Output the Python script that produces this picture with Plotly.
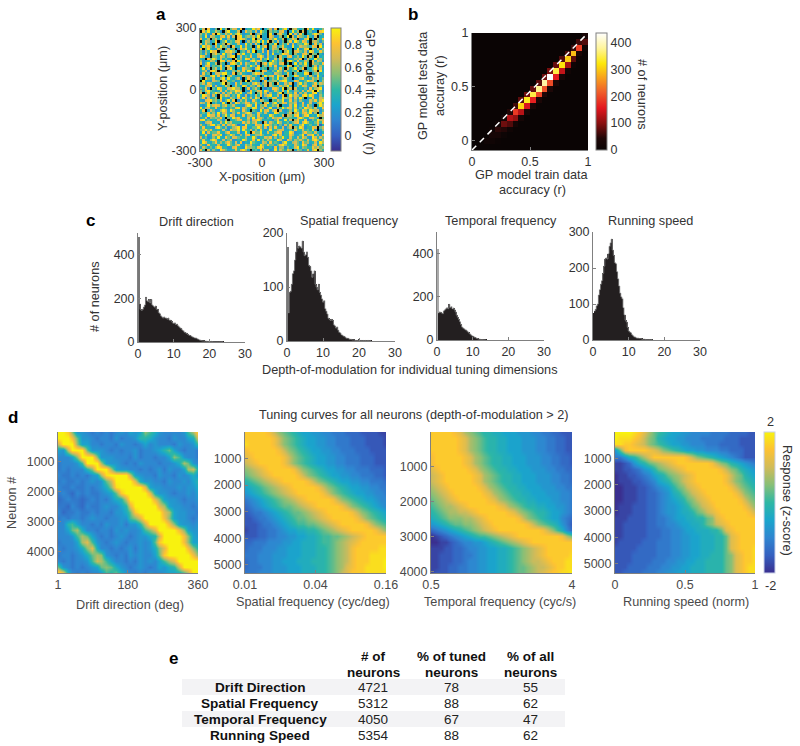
import numpy as np
import plotly.graph_objects as go

W, H = 800, 746

# ---------- panel a: fit quality per cell, digit = r*10, x = no fit (black)
FIT_ROWS = """
47x8325x93 6x57738x24 49683x3571 8x4692x674 35x8493246
x85934752x 693347x285 6372954x64 53782x3946 x7x3523x89
647328x953 7584695234 8x26743x92 x6853x9273 84x3469752
5392764378 4827x89356 5749x33x86 236x49x738 6538427x34
8346x57493 2634x89752 49x6832475 9347x3586x 2379x3x648
x476248x35 9354783x26 47593948x6 3725x58396 4873x67525
73853x9246 x853472294 6284x73x53 9x36482725 5496x38472
3968527495 62x8349374 5x29368x47 7358422934 7665387x94
8x5943376x 3745x28694 3836492x47 65x8743x39 2489x53736
5264978x34 87963x4527 39x4372826 453x694x78 5472973485
5373x68529 4672x85934 6347533829 2359874x63 3785x65x42
9742x55386 3689x37354 8337962742 5x74378246 395x74x834
43x8596374 532x746398 3642835923 7384x33465 8x27439564
6234763x98 3758x95342 7958643x49 5364x79538 3475x83762
8259347x64 x289648375 3472x68496 5378x4x293 6493x75548
x378254592 6843x74264 9538x46373 8245397x46 3574x4726
4936x57384 x794x33865 4279354x43 6384x74592 58x3469473
3572896x41 5336474849 7x43x87325 4962743548 x265357x93
2845x37769 9428x57432 3698573442 7652483x63 4398x35734
7633794825 x574243867 6452x39578 3968x74397 4352752942
4x85473369 2943572x48 5733682x46 4935742x24 6842475735
x9332765x7 8445236x9x 7342x28356 6479942387 3359774x36
5748642359 x632847345 3796257x74 x833758x26 9463358476
3367927324 85x3742973 6528537x75 4375693x36 4874287x53
5482x53974 3779664x38 2574x31428 8639x57x73 4352846792
6379542483 7465986x32 8457839624 7538394265 374869x952
7x48359627 3684759326 93x5847263 369x475382 6473489253
4986273x85 8635394272 5374826893 4728x39576 3895973264
5827346x93 4275382964 7396x32548 8339657274 95x2483376
3278956482 5948x26473 28537642x5 4759248363 6423758479
7648x35329 3x62974587 45843x7926 9358746572 3824723695
3249578746 8457433269 7392658346 58x4237492 473852x496
9367448335 4254893764 4983672592 2649587473 5397647338
48x3752369 7396442853 x542947836 8x73246395 3864976725
35484639477 326483579 6248537423 9744257x68 4785926x38
6339774825 9487243836 7538343396 4347x76489 2589343967
3472656583 x5396843 37 4937752548 6782555437 96437752x5
8935343752 6x34578346 2779634432 5833937x68 4382254967
4267834374 9574443857 46842x7375 4963453578 3796435848
7425894638 3768513294 4387739 96 4525274843 3693453470
4834327953 6246793883 3559637274 8437257x64 9724487x57
5695843437 4286693954 7363842493 4677335384 4745392x36
3927455843 6834472394 x85593374 4688244972 3368554742
4483378692 4596336378 2466853437 9473448633 5927793628
7352364943 8537754463 4952447683 6359437437 4863297475
4843697337 3572243963 4839364754 3973286365 7547489637
3974358464 6853738243 9543376384 5426943675 3856347396
6428443733 4954683375 7433964855 3589644375 4973268364
3753536984 4237843296 6548973342 8366253479 3654486756
84x7364297 5334847963 x453846723 9375486x36 5248379x64
""".strip().split("\n")

# ---------- panel b: 2-D histogram, counts on diagonals (20 x bins)
RIDGE_MAIN = [0, 3, 15, 25, 50, 85, 125, 185, 310, 330, 345, 375, 385, 440, 345, 320, 300, 290, 190, 70]
RIDGE_ABOVE = [0, 0, 0, 6, 12, 25, 45, 60, 75, 85, 80, 75, 85, 90, 80, 70, 65, 55, 60, 30]
RIDGE_BELOW = [0, 0, 3, 12, 25, 45, 70, 105, 130, 150, 165, 195, 205, 200, 160, 135, 115, 75, 35, 8]
RIDGE_FAINT = [0, 0, 0, 0, 4, 8, 12, 20, 25, 30, 32, 35, 40, 40, 30, 25, 15, 10, 5, 0]
DIAG_X = [0, 1]
DIAG_Y = [-0.09, 1]

# ---------- panel c: depth-of-modulation histograms (bin width 0.3)
BIN_W = 0.3
HIST_DIR = [480,175,150,145,150,160,170,205,190,185,195,180,195,170,165,160,165,150,150,135,130,120,115,110,115,110,110,105,110,100,100,95,88,85,88,80,82,75,70,65,62,55,52,45,42,40,35,32,30,28,25,22,20,18,18,15,12,10,8,6,5,5,4,4,3,3,2,2,3,2,1,1,1,1,1,0,1,1,0,1]
HIST_SF = [175,52,90,92,105,125,130,150,165,183,172,176,175,172,185,165,158,160,165,155,140,138,130,118,125,130,105,100,95,105,90,85,78,72,75,60,55,50,42,40,38,40,38,30,28,24,26,20,16,15,12,10,9,8,6,5,5,4,3,3,2,2,2,1,1,1,2,1,1,1,1,0,1,0,1,1,0,1]
HIST_TF = [420,125,130,128,125,122,135,140,145,150,145,165,150,155,145,148,140,130,115,105,95,85,72,60,55,52,48,45,40,35,30,25,20,18,15,12,10,7,5,4,3,2,2,1,1,1]
HIST_RUN = [75,80,85,95,100,125,140,155,165,185,205,225,228,225,240,260,270,280,250,235,215,212,190,170,150,130,120,115,90,70,55,50,35,25,22,20,15,12,9,8,6,5,5,4,4,3,2,2,2,1,1,1,1,0,1,1]

# ---------- panel d: sorted tuning curves, base-20 level per cell (0 = -2 ... j = +2)
DIR_ROWS = """
jjhc66545454565767ca8655556adi
jjjgb665455464556998655465578f
ejjjc775545546554575655546556a
76ejjjb6665454556455679b754554
5557cjjjc666555464554557ca6554
45556ajjjd7665454655545568db65
4545559cjjjd766554545646557de8
544545467dijjjje76554655465686
4544545656bejjjjf8665546556579
54454454568cijjjjjf76655565668
454354544567bhjjjjjf8665455657
34544345454689ejjjjjfc76654556
443543544565579fjjjjjfd7665545
534454454554668bhjjjjjfd766554
454554565545566acfjjjjgc766545
559a75545465564669ejjjjgc76656
557bd8554554656556acfjjjjgc766
5556adb75454565456689ejjjjgc76
45557dfa654565455656bhjjjjgc77
545568cf8554545646568cfjjjjgc9
4554568bdc65454656557bhjjjjjgc
5454556aeda75545465657adfjjjjj
b65454567bcb8654565457689ejjjj
jg85454556a9b8654546556778adjj
""".split()
SF_ROWS = """
hhhhhgecba98776655444333222211
hhhhhhgecba9877665544433322221
ihhhhhgecba9877665544433322221
ghhhhhhgecba987766554443332222
fghhhhhhgecba98776655444333222
efghhhhhgecba98776655444333222
cdefghhhhhgecba987766554443332
bcdefghhhhhgecba98776655444332
9abcdefghhhhhgecba987766554443
789abcdefghhhhhgecba9877665544
6789abcdefghhhhhgecba987766554
456789abcdefghhhhhgecba9877655
3456789abbcdefghhhhhgecba98765
234456789abbcdefghhhhhgecba987
2234456789abbcdefghhhhhgecba98
22234456789aabbcdefghhhhhgecba
122334456778899abcdefghhhhhgec
2223344556677889aabbcdefghhhhh
3344455566778889aabcdefghhhhhh
34445556677788899abcdeghhhhhii
44455566677788899abcdeghhhiiii
34455566777888999abcdeghhhiiij
34445566677788899abcdfghhiiiij
44455566677788899abcefhhhiiiii
""".split()
TF_ROWS = """
hhhhhgfdcba9988777666554433222
hhhhhhgfdcba998877766655443322
hhhhhhgfdcba998877766655443322
hhhhhhgfdcba998877766655443322
ghhhhhhgfdcba99887776665544332
ghhhhhhgfdcba99887776665544332
fghhhhhhgfdcba9988777666554433
efghhhhhhgfdcba998877766655443
efghhhhhhgfdcba998877766655443
defghhhhhhgfdcba99887776665544
cdefghhhhhhgfdcba9988777666554
bcdefghhhhhhgfdcba998877766554
abcddefghhhhhhgfdcba9988776654
9abcddeefghhhhhhgfdcba99877654
89abcccddefghhhhhhgecba9877543
6789abbccdefghhhhhhhgecba98642
3456789abcdefghhhhhhhhhgeca853
0123456789aabcdefghhhhhhhhhgdb
00112345566789abcdefghhhhhhhhh
11122334556677889abcdefghhhhhh
11222334456677889abcdefghhhhhi
11222334556677889abcdeefghhhii
11223344556677889abbcdeefghhii
12223344556677889abbcdefghhiij
""".split()
RUN_ROWS = """
jjjjihfdba98776655554444333322
jiiihgecb987766555444443332222
iihhgfecba98776655544433332222
6bghhhhgfecba98776655544333222
44689bdfhhhhhhhgecba9876543222
1123689bcdefghhhhhhhgecb987654
112234679bcdefghhhhhhhgecb9876
01122345789bcdefghhhhhhgecb987
011122345789bcefghhhhhhgecba98
0011122345679bcefghhhhhhgecba9
00111223345689bcefghhhhhhgecba
001112233456789bcefghhhhhhgecb
0111222334566789bcefghhhhhhgec
01112223345667889bcefghhhhhhge
1112222334456778899bcfghhhhhhh
1122222334455677889bcefghhhhhh
1122222333445567788899bfghhhhh
11222223334455667788899bfghhhh
12222233344455667788899bfghhhh
22222333344455667788899bfghhhi
22223333344455667788999bcfghhi
22223333444556677889999bcfghhi
22233334445566778889999bcfghii
22333344455667778889999bcfghii
""".split()
N_DIR, N_SF, N_TF, N_RUN = 4721, 5312, 4050, 5354

# ---------- panel e
TABLE_HEAD = ["# of<br>neurons", "% of tuned<br>neurons", "% of all<br>neurons"]
TABLE_ROWS = ["Drift Direction", "Spatial Frequency", "Temporal Frequency", "Running Speed"]
TABLE_COUNT = [4721, 5312, 4050, 5354]
TABLE_TUNED = [78, 88, 67, 88]
TABLE_ALL = [55, 62, 47, 62]

# ---------- styling
FONT = "Liberation Sans, Arial, sans-serif"
TXT = "#333333"
TXT2 = "#4a4a4a"
AXC = "#808080"
PARULA = [[0, "#3a2f8f"], [.125, "#3560c0"], [.25, "#2f85d0"], [.375, "#1aa5cc"], [.5, "#2eb7a4"],
          [.625, "#87bf77"], [.75, "#d1bb59"], [.875, "#fdc233"], [1, "#f8f20f"]]
HOT = [[0, "#0a0404"], [.1, "#1f0707"], [.23, "#8a1010"], [.36, "#e3161e"], [.5, "#f0602a"],
       [.62, "#f8a21c"], [.74, "#fde80a"], [.87, "#fff59a"], [1, "#ffffff"]]
LEVELS = "0123456789abcdefghij"


def xd(a, b):
    return [a / W, b / W]


def yd(t, b):
    return [1 - b / H, 1 - t / H]


fig = go.Figure()
annots = []
axes = {}


def add_axes(n, xdom, ydom, xr, yr, xt, yt, xtt=None, ytt=None, size=12.5, color=TXT):
    s = "" if n == 1 else str(n)
    common = dict(showgrid=False, zeroline=False, showline=True, linecolor=AXC, linewidth=1,
                  ticks="inside", ticklen=3, tickcolor=AXC, tickfont=dict(size=size, color=color, family=FONT))
    axes["xaxis" + s] = dict(domain=xd(*xdom), range=xr, tickvals=xt, ticktext=xtt or [str(v) for v in xt],
                             anchor="y" + s, tickmode="array", **common)
    axes["yaxis" + s] = dict(domain=yd(*ydom), range=yr, tickvals=yt, ticktext=ytt or [str(v) for v in yt],
                             anchor="x" + s, tickmode="array", **common)
    return "x" + s, "y" + s


def note(x, y, text, size=12.7, rot=0, color=TXT, bold=False):
    annots.append(dict(x=x / W, y=1 - y / H, xref="paper", yref="paper", text=f"<b>{text}</b>" if bold else text,
                       showarrow=False, textangle=rot, xanchor="center", yanchor="middle",
                       font=dict(size=size, color=color, family=FONT)))


def level_grid(rows):
    return [[LEVELS.index(c) for c in r] for r in rows]


# panel a
rows_a = [r.replace(" ", "").ljust(50, "4")[:50] for r in FIT_ROWS]
z_a = [[None if c == "x" else int(c) / 10 for c in r] for r in rows_a]
xa, ya = add_axes(1, (200, 324), (28, 151), [-300, 300], [-300, 300], [-300, 0, 300], [-300, 0, 300])
fig.add_trace(go.Heatmap(z=z_a, x=np.linspace(-294, 294, 50), y=np.linspace(294, -294, 50), xaxis=xa, yaxis=ya,
                         colorscale=PARULA, zmin=-0.134, zmax=0.943, hoverongaps=False,
                         colorbar=dict(x=331 / W, xanchor="left", xpad=0, y=1 - 28 / H, yanchor="top", ypad=0,
                                       thickness=10, thicknessmode="pixels", len=123, lenmode="pixels",
                                       tickvals=[0, .2, .4, .6, .8], ticktext=["0", "0.2", "0.4", "0.6", "0.8"],
                                       ticks="", outlinecolor=AXC, outlinewidth=1,
                                       tickfont=dict(size=12.5, color=TXT, family=FONT))))
note(262, 177, "X-position (μm)")
note(163, 89, "Y-position (μm)", rot=-90)
note(370, 92, "GP model fit quality (r)", rot=90)

# panel b
n_bins = 20
z_b = [[0] * n_bins for _ in range(n_bins)]
for i in range(n_bins):
    for off, band in ((-1, RIDGE_MAIN), (0, RIDGE_ABOVE), (-2, RIDGE_BELOW), (-3, RIDGE_FAINT)):
        j = i + off
        if 0 <= j < n_bins:
            z_b[j][i] = band[i]
xb, yb = add_axes(2, (472, 588), (33, 150), [0, 1], [-0.09, 1], [0, .5, 1], [0, .5, 1], xtt=["0", "0.5", "1"], ytt=["0", "0.5", "1"])
fig.add_trace(go.Heatmap(z=z_b, x=(np.arange(n_bins) + .5) / n_bins,
                         y=-0.09 + (np.arange(n_bins) + .5) * 1.09 / n_bins, xaxis=xb, yaxis=yb,
                         colorscale=HOT, zmin=0, zmax=435,
                         colorbar=dict(x=596 / W, xanchor="left", xpad=0, y=1 - 33 / H, yanchor="top", ypad=0,
                                       thickness=11, thicknessmode="pixels", len=117, lenmode="pixels",
                                       tickvals=[0, 100, 200, 300, 400], ticks="", outlinecolor=AXC, outlinewidth=1,
                                       tickfont=dict(size=12.5, color=TXT, family=FONT))))
fig.add_trace(go.Scatter(x=DIAG_X, y=DIAG_Y, mode="lines", xaxis=xb, yaxis=yb, showlegend=False,
                         line=dict(color="white", width=1.5, dash="6px,5px")))
note(532, 175, "GP model train data")
note(532, 190, "accuracy (r)")
note(423, 86, "GP model test data", rot=-90)
note(440, 86, "accuray (r)", rot=-90)
note(642, 94, "# of neurons", rot=90)

# panel c
hists = [
    (HIST_DIR, (138, 245), (233, 342), 500, [0, 200, 400], "#777777", "Drift direction", 196, 222),
    (HIST_SF, (287, 395), (233, 341), 200, [0, 100, 200], "#777777", "Spatial frequency", 349, 220.5),
    (HIST_TF, (437, 544), (232, 340), 500, [0, 200, 400], "#aaaaaa", "Temporal frequency", 501, 220.5),
    (HIST_RUN, (593, 700), (232, 340), 300, [0, 100, 200, 300], "#231f20", "Running speed", 650, 220.5),
]
for k, (vals, xdom, ydom, top, yt, first, title, tx, ty) in enumerate(hists):
    xh, yh = add_axes(3 + k, xdom, ydom, [0, 30], [0, top], [0, 10, 20, 30], yt)
    centers = (np.arange(len(vals)) + .5) * BIN_W
    fig.add_trace(go.Bar(x=centers, y=vals, width=BIN_W, xaxis=xh, yaxis=yh, showlegend=False,
                         marker=dict(color=[first] + ["#231f20"] * (len(vals) - 1), line=dict(width=0))))
    fig.add_trace(go.Scatter(x=centers[1:], y=vals[1:], mode="lines", xaxis=xh, yaxis=yh, showlegend=False,
                             line=dict(color="#8a8a8a", width=0.8, shape="hvh")))
    note(tx, ty, title)
note(95, 297, "# of neurons", rot=-90)
note(410, 370, "Depth-of-modulation for individual tuning dimensions")

# panel d
heats = [
    (DIR_ROWS, (58, 198), N_DIR, [1, 360], [1, 180, 360], ["1", "180", "360"], [1000, 2000, 3000, 4000], "Drift direction (deg)", 130, 605),
    (SF_ROWS, (245, 386), N_SF, [0, 4], [0, 2, 4], ["0.01", "0.04", "0.16"], [1000, 2000, 3000, 4000, 5000], "Spatial frequency (cyc/deg)", 313, 602),
    (TF_ROWS, (431, 572), N_TF, [0, 3], [0, 3], ["0.5", "4"], [1000, 2000, 3000, 4000], "Temporal frequency (cyc/s)", 500, 602),
    (RUN_ROWS, (615, 755), N_RUN, [0, 1], [0, .5, 1], ["0", "0.5", "1"], [1000, 2000, 3000, 4000, 5000], "Running speed (norm)", 686, 602),
]
for k, (rows, xdom, n, xr, xt, xtt, yt, title, tx, ty) in enumerate(heats):
    xh, yh = add_axes(7 + k, xdom, (432, 573), xr, [n, 1], xt, yt, xtt=xtt, color=TXT2)
    g = level_grid(rows)
    kw = {}
    if k == 3:
        kw = dict(colorbar=dict(x=764 / W, xanchor="left", xpad=0, y=1 - 432 / H, yanchor="top", ypad=0,
                                thickness=11, thicknessmode="pixels", len=141, lenmode="pixels",
                                showticklabels=False, ticks="", outlinecolor="#c8d0e8", outlinewidth=1))
    fig.add_trace(go.Heatmap(z=g, x=np.linspace(xr[0], xr[1], len(g[0])), y=np.linspace(1, n, len(g)),
                             xaxis=xh, yaxis=yh, colorscale=PARULA, zmin=0, zmax=19, zsmooth="best",
                             showscale=k == 3, **kw))
    note(tx, ty, title, color=TXT2)
note(12, 503, "Neuron #", rot=-90, color=TXT2)
note(414, 415, "Tuning curves for all neurons (depth-of-modulation &gt; 2)", color=TXT)
note(770, 422, "2")
note(770, 586, "-2")
note(787, 500, "Response (z-score)", rot=90)

# panel e
shapes = [dict(type="rect", xref="x", yref="y", x0=-300, x1=300, y0=-300, y1=300, fillcolor="#0a0a0a", line=dict(width=0), layer="below")]
col_x = [373, 452, 530]
row_y = [687, 703, 719, 735]
for i, y in enumerate(row_y):
    if i % 2 == 0:
        shapes.append(dict(type="rect", xref="paper", yref="paper", x0=182 / W, x1=565 / W, y0=1 - (y + 8) / H,
                           y1=1 - (y - 8) / H, fillcolor="#f3f3f5", line=dict(width=0), layer="below"))
    note(260, y, TABLE_ROWS[i], size=13.6, color="#111111", bold=True)
    for cx, col in zip(col_x, (TABLE_COUNT, TABLE_TUNED, TABLE_ALL)):
        note(cx, y, str(col[i]), size=13.5, color="#222222")
for cx, head in zip(col_x, TABLE_HEAD):
    a, b = head.split("<br>")
    note(cx, 656, a, size=13.5, color="#111111", bold=True)
    note(cx, 672, b, size=13.5, color="#111111", bold=True)

for lab, x, y in (("a", 161, 14), ("b", 413, 14), ("c", 90, 221), ("d", 13, 417), ("e", 173, 658)):
    note(x, y, lab, size=17, color="#000000", bold=True)

fig.update_layout(width=W, height=H, margin=dict(l=0, r=0, t=0, b=0, autoexpand=False), paper_bgcolor="white",
                  plot_bgcolor="rgba(0,0,0,0)", showlegend=False, bargap=0, font=dict(family=FONT, color=TXT),
                  annotations=annots, shapes=shapes, **axes)
fig.write_html("out.html", config=dict(displayModeBar=False),
               post_script="document.body.style.margin='0';document.body.style.overflow='hidden';")
